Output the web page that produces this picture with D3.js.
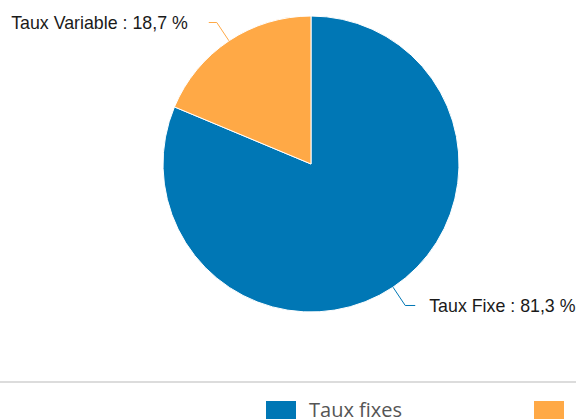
<!DOCTYPE html>
<html>
<head>
<meta charset="utf-8">
<script src="https://cdn.jsdelivr.net/npm/d3@7"></script>
<style>
  html, body { margin: 0; padding: 0; background: #fff; overflow: hidden; }
</style>
</head>
<body>
<div id="chart"></div>
<script>
// Data
const sliceNames = ['Taux Fixe', 'Taux Variable'];
const sliceValues = [81.3, 18.7];
const legendNames = ['Taux fixes', 'Taux variables'];
const colors = ['#0077b5', '#ffa946'];

const width = 576, height = 419;
const cx = 311, cy = 164, radius = 148;

const formatPct = d => d3.format('.1f')(d).replace('.', ',') + ' %';

const svg = d3.select('#chart').append('svg')
    .attr('width', width)
    .attr('height', height);

const pie = d3.pie().sort(null).value(d => d.value);
const arcs = pie(sliceNames.map((n, i) => ({ name: n, value: sliceValues[i], color: colors[i] })));

const arc = d3.arc().innerRadius(0).outerRadius(radius);

const g = svg.append('g')
    .attr('transform', `translate(${cx},${cy})`);

// Slices
g.selectAll('path.slice')
    .data(arcs)
    .enter().append('path')
    .attr('class', 'slice')
    .attr('d', arc)
    .attr('fill', d => d.data.color)
    .attr('stroke', '#fff')
    .attr('stroke-width', 1);

// Labels with connectors
const elbowR = radius + 22;
arcs.forEach(d => {
    const a = (d.startAngle + d.endAngle) / 2;
    const sx = Math.sin(a), sy = -Math.cos(a);
    const p0 = [sx * radius, sy * radius];
    const p1 = [sx * elbowR, sy * elbowR];
    const right = sx > 0;
    const p2 = [p1[0] + (right ? 10 : -8), p1[1]];
    g.append('path')
        .attr('d', d3.line()([p0, p1, p2]))
        .attr('fill', 'none')
        .attr('stroke', d.data.color)
        .attr('stroke-width', 1);
    g.append('text')
        .attr('x', p2[0] + (right ? 14 : -21))
        .attr('y', p2[1])
        .attr('dy', '0.36em')
        .attr('text-anchor', right ? 'start' : 'end')
        .attr('font-family', 'Liberation Sans, Arial, sans-serif')
        .attr('font-size', '17.8px')
        .attr('fill', '#1a1a1a')
        .text(`${d.data.name} : ${formatPct(d.data.value)}`);
});

// Separator
svg.append('line')
    .attr('x1', 0).attr('x2', width)
    .attr('y1', 382).attr('y2', 382)
    .attr('stroke', '#dcdcdc')
    .attr('stroke-width', 2);

// Legend
const legendX = [266, 534];
const legend = svg.selectAll('g.legend')
    .data(legendNames)
    .enter().append('g')
    .attr('class', 'legend')
    .attr('transform', (d, i) => `translate(${legendX[i]},401)`);

legend.append('rect')
    .attr('width', 30)
    .attr('height', 30)
    .attr('fill', (d, i) => colors[i]);

legend.append('text')
    .attr('x', 43)
    .attr('y', 16)
    .attr('font-family', 'Open Sans, sans-serif')
    .attr('font-size', '20px')
    .attr('fill', '#555')
    .text(d => d);
</script>
</body>
</html>
